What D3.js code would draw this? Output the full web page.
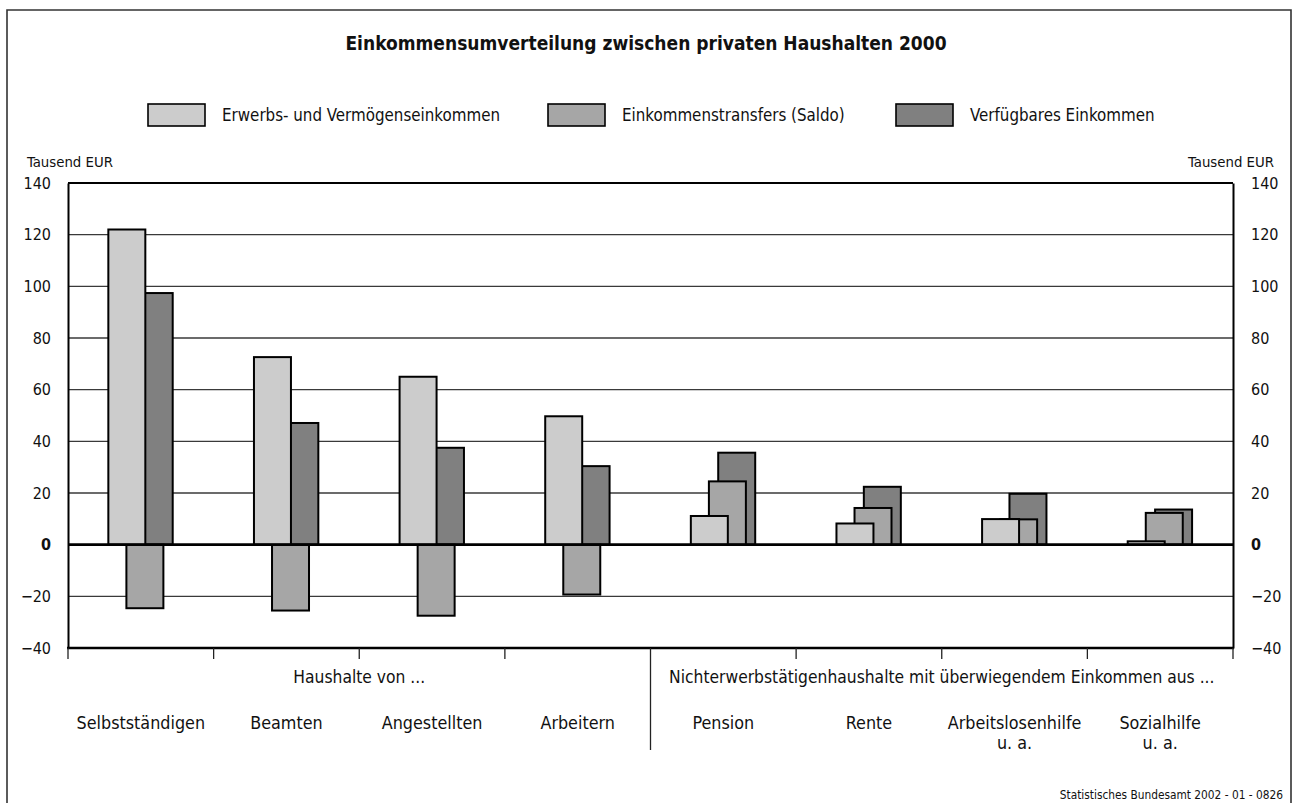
<!DOCTYPE html>
<html>
<head>
<meta charset="utf-8">
<script src="https://cdn.jsdelivr.net/npm/d3@7"></script>
<style>
  html, body { margin: 0; padding: 0; background: #fff; }
  svg { display: block; }
  text { font-family: "DejaVu Sans Condensed", "Liberation Sans Narrow", "Open Sans", sans-serif; fill: #111; }
</style>
</head>
<body>
<svg id="chart" width="1292" height="803"></svg>
<script>
// Haushaltsgruppen und Werte in Tausend EUR
const categories = ["Selbstständigen", "Beamten", "Angestellten", "Arbeitern",
                    "Pension", "Rente", "Arbeitslosenhilfe", "Sozialhilfe"];
const categoryLines = [["Selbstständigen"], ["Beamten"], ["Angestellten"], ["Arbeitern"],
                       ["Pension"], ["Rente"], ["Arbeitslosenhilfe", "u. a."], ["Sozialhilfe", "u. a."]];
const groupLabels = ["Haushalte von ...",
                     "Nichterwerbstätigenhaushalte mit überwiegendem Einkommen aus ..."];
const groupSizes = [4, 4];

const seriesNames = ["Erwerbs- und Vermögenseinkommen", "Einkommenstransfers (Saldo)", "Verfügbares Einkommen"];
const erwerbsEinkommen = [122.0, 72.6, 65.0, 49.7, 11.1, 8.2, 9.9, 1.3];
const transfersSaldo   = [-24.6, -25.5, -27.5, -19.3, 24.5, 14.2, 9.8, 12.3];
const verfuegbar       = [97.4, 47.1, 37.5, 30.4, 35.6, 22.4, 19.7, 13.6];

const yTicks = [-40, -20, 0, 20, 40, 60, 80, 100, 120, 140];
const unitLabel = "Tausend EUR";
const title = "Einkommensumverteilung zwischen privaten Haushalten 2000";
const source = "Statistisches Bundesamt 2002 - 01 - 0826";

const fills = ["#cccccc", "#a6a6a6", "#808080"];

const svg = d3.select("#chart");

// outer frame
svg.append("path")
  .attr("d", "M7,820 L7,10 L1291,10 L1291,820")
  .attr("fill", "none").attr("stroke", "#333").attr("stroke-width", 1.6);

svg.append("text")
  .attr("x", 646).attr("y", 50)
  .attr("text-anchor", "middle")
  .attr("font-size", 19).attr("font-weight", "bold")
  .text(title);

// legend
const legendX = [148, 548, 896];
const legend = svg.append("g");
seriesNames.forEach((name, i) => {
  legend.append("rect")
    .attr("x", legendX[i]).attr("y", 104).attr("width", 57).attr("height", 22)
    .attr("fill", fills[i]).attr("stroke", "#000").attr("stroke-width", 1.6);
  legend.append("text")
    .attr("x", legendX[i] + 74).attr("y", 121)
    .attr("font-size", 16.8)
    .text(name);
});

// scales
const x = d3.scaleBand().domain(categories).range([68, 1233]).padding(0);
const y = d3.scaleLinear().domain([-40, 140]).range([648, 183]);
const bw = x.bandwidth();

// gridlines
svg.append("g").selectAll("line")
  .data(yTicks.filter(t => t !== 0 && t !== -40 && t !== 140))
  .join("line")
  .attr("x1", 68).attr("x2", 1233)
  .attr("y1", d => y(d)).attr("y2", d => y(d))
  .attr("stroke", "#3a3a3a").attr("stroke-width", 1.3);

// bars: dark series behind, then transfers, then earnings in front
const series = [
  { values: verfuegbar,       fill: fills[2], offset: 0.092 },
  { values: transfersSaldo,   fill: fills[1], offset: 0.028 },
  { values: erwerbsEinkommen, fill: fills[0], offset: -0.096 }
];
const barW = bw * 0.254;
series.forEach(s => {
  svg.append("g").selectAll("rect")
    .data(categories.map((c, i) => ({ c, v: s.values[i] })))
    .join("rect")
    .attr("x", d => x(d.c) + bw / 2 + s.offset * bw - barW / 2)
    .attr("width", barW)
    .attr("y", d => y(Math.max(0, d.v)))
    .attr("height", d => Math.abs(y(d.v) - y(0)))
    .attr("fill", s.fill)
    .attr("stroke", "#000").attr("stroke-width", 2);
});

// frame lines of the plot area
svg.append("line").attr("x1", 68).attr("x2", 1233).attr("y1", y(140)).attr("y2", y(140))
  .attr("stroke", "#000").attr("stroke-width", 1.8);
svg.append("line").attr("x1", 68).attr("x2", 1233).attr("y1", y(0)).attr("y2", y(0))
  .attr("stroke", "#000").attr("stroke-width", 2.6);

// left and right axes
const leftAxis = svg.append("g").attr("transform", "translate(68,0)")
  .call(d3.axisLeft(y).tickValues(yTicks).tickSize(0).tickPadding(17));
const rightAxis = svg.append("g").attr("transform", "translate(1233,0)")
  .call(d3.axisRight(y).tickValues(yTicks).tickSize(0).tickPadding(18));
[leftAxis, rightAxis].forEach(a => {
  a.attr("font-size", 16);
  a.select(".domain").attr("stroke", "#000").attr("stroke-width", 2);
  a.selectAll("text")
    .attr("font-size", 16)
    .attr("font-family", "'DejaVu Sans Condensed', 'Open Sans', sans-serif")
    .attr("fill", "#111")
    .attr("font-weight", d => d === 0 ? "bold" : "normal");
});

svg.append("text").attr("x", 27).attr("y", 167).attr("font-size", 14.8).text(unitLabel);
svg.append("text").attr("x", 1274).attr("y", 167).attr("text-anchor", "end").attr("font-size", 14.8).text(unitLabel);

// bottom axis with category ticks
const bottom = svg.append("g").attr("transform", `translate(0,${y(-40)})`);
bottom.append("line").attr("x1", 67).attr("x2", 1234).attr("y1", 0).attr("y2", 0)
  .attr("stroke", "#000").attr("stroke-width", 2.4);
const boundaries = categories.map(c => x(c)).concat([x(categories[categories.length - 1]) + bw]);
bottom.selectAll("line.tick")
  .data(boundaries)
  .join("line").attr("class", "tick")
  .attr("x1", d => d).attr("x2", d => d)
  .attr("y1", 0).attr("y2", (d, i) => i === groupSizes[0] ? 102 : 11)
  .attr("stroke", "#222").attr("stroke-width", 1.3);

// group labels
let start = 0;
groupLabels.forEach((g, i) => {
  const first = categories[start];
  const last = categories[start + groupSizes[i] - 1];
  const cx = (x(first) + x(last) + bw) / 2;
  svg.append("text")
    .attr("x", cx).attr("y", 683)
    .attr("text-anchor", "middle").attr("font-size", 17.3)
    .text(g);
  start += groupSizes[i];
});

// category labels
categories.forEach((c, i) => {
  const t = svg.append("text")
    .attr("x", x(c) + bw / 2).attr("y", 729)
    .attr("text-anchor", "middle").attr("font-size", 17.8);
  categoryLines[i].forEach((line, j) => {
    t.append("tspan").attr("x", x(c) + bw / 2).attr("dy", j === 0 ? 0 : 20).text(line);
  });
});

svg.append("text").attr("x", 1283).attr("y", 799)
  .attr("text-anchor", "end").attr("font-size", 11.8)
  .text(source);
</script>
</body>
</html>
